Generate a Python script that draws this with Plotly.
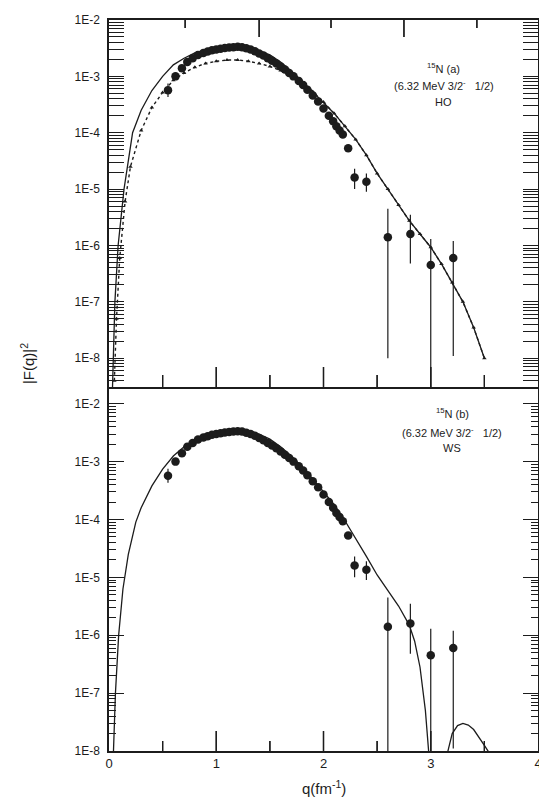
import numpy as np
import plotly.graph_objects as go

# ---------------- data ----------------
# experimental |F(q)|^2 (same data in both panels)
q_exp = [0.55, 0.62, 0.68, 0.73, 0.78, 0.83, 0.88, 0.92, 0.96, 1.00, 1.04, 1.08,
         1.12, 1.16, 1.20, 1.24, 1.28, 1.32, 1.36, 1.40, 1.44, 1.48, 1.52, 1.56,
         1.60, 1.64, 1.68, 1.72, 1.77, 1.81, 1.85, 1.90, 1.95, 2.00, 2.05, 2.09,
         2.12, 2.15, 2.18, 2.23, 2.29, 2.40, 2.60, 2.81, 3.00, 3.21]
f_exp = [5.7e-4, 1.0e-3, 1.4e-3, 1.8e-3, 2.1e-3, 2.4e-3, 2.6e-3, 2.75e-3, 2.9e-3, 3.0e-3, 3.1e-3, 3.2e-3,
         3.25e-3, 3.3e-3, 3.35e-3, 3.3e-3, 3.15e-3, 3.0e-3, 2.8e-3, 2.55e-3, 2.35e-3, 2.1e-3, 1.9e-3, 1.7e-3,
         1.5e-3, 1.32e-3, 1.15e-3, 1.0e-3, 8.3e-4, 7.0e-4, 5.8e-4, 4.6e-4, 3.6e-4, 2.7e-4, 2.0e-4, 1.6e-4,
         1.3e-4, 1.1e-4, 9.3e-5, 5.3e-5, 1.6e-5, 1.35e-5, 1.4e-6, 1.6e-6, 4.5e-7, 6.0e-7]
# upper / lower ends of the error bars
f_hi = [7.5e-4, 1.0e-3, 1.4e-3, 1.8e-3, 2.1e-3, 2.4e-3, 2.6e-3, 2.75e-3, 2.9e-3, 3.0e-3, 3.1e-3, 3.2e-3,
        3.25e-3, 3.3e-3, 3.35e-3, 3.3e-3, 3.15e-3, 3.0e-3, 2.8e-3, 2.55e-3, 2.35e-3, 2.1e-3, 1.9e-3, 1.7e-3,
        1.5e-3, 1.32e-3, 1.15e-3, 1.0e-3, 8.3e-4, 7.0e-4, 5.8e-4, 4.6e-4, 3.6e-4, 2.7e-4, 2.0e-4, 1.6e-4,
        1.3e-4, 1.1e-4, 9.3e-5, 5.3e-5, 2.3e-5, 1.9e-5, 4.5e-6, 3.5e-6, 1.3e-6, 1.2e-6]
f_lo = [4.3e-4, 1.0e-3, 1.4e-3, 1.8e-3, 2.1e-3, 2.4e-3, 2.6e-3, 2.75e-3, 2.9e-3, 3.0e-3, 3.1e-3, 3.2e-3,
        3.25e-3, 3.3e-3, 3.35e-3, 3.3e-3, 3.15e-3, 3.0e-3, 2.8e-3, 2.55e-3, 2.35e-3, 2.1e-3, 1.9e-3, 1.7e-3,
        1.5e-3, 1.32e-3, 1.15e-3, 1.0e-3, 8.3e-4, 7.0e-4, 5.8e-4, 4.6e-4, 3.6e-4, 2.7e-4, 2.0e-4, 1.6e-4,
        1.3e-4, 1.1e-4, 9.3e-5, 5.3e-5, 1.0e-5, 9.0e-6, 1.0e-8, 4.8e-7, 1.0e-9, 1.1e-8]

# (a) HO calculation, solid line
q_ho = [0.03, 0.04, 0.055, 0.085, 0.14, 0.22, 0.3, 0.4, 0.5, 0.6, 0.7, 0.8, 0.9, 1.0, 1.1, 1.2,
        1.3, 1.4, 1.5, 1.6, 1.7, 1.8, 1.9, 2.0, 2.1, 2.2, 2.3, 2.4, 2.5, 2.6, 2.7, 2.8, 2.9,
        3.0, 3.1, 3.2, 3.3, 3.4, 3.5]
f_ho = [2.0e-9, 1.0e-8, 1.0e-7, 1.0e-6, 1.0e-5, 1.0e-4, 2.5e-4, 5.6e-4, 1.0e-3, 1.6e-3, 2.1e-3, 2.6e-3,
        2.95e-3, 3.2e-3, 3.35e-3, 3.35e-3, 3.2e-3, 2.85e-3, 2.4e-3, 1.8e-3, 1.25e-3, 8.3e-4, 5.4e-4,
        3.5e-4, 2.2e-4, 1.3e-4, 7.6e-5, 4.0e-5, 1.9e-5, 1.0e-5, 5.2e-6, 2.75e-6, 1.6e-6,
        9.3e-7, 4.7e-7, 2.2e-7, 1.0e-7, 3.5e-8, 1.0e-8]

# (a) second calculation, dotted line
q_dot = [0.05, 0.07, 0.1, 0.15, 0.2, 0.3, 0.4, 0.5, 0.6, 0.7, 0.8, 0.9, 1.0, 1.1, 1.2, 1.3,
         1.4, 1.5, 1.6, 1.7, 1.8, 1.9, 2.0, 2.1, 2.2, 2.3, 2.4, 2.5, 2.6, 2.7, 2.8, 2.9,
         3.0, 3.1, 3.2, 3.3, 3.4, 3.5]
f_dot = [4.0e-9, 5.0e-8, 6.0e-7, 6.0e-6, 2.5e-5, 1.1e-4, 2.8e-4, 5.2e-4, 8.5e-4, 1.15e-3, 1.45e-3,
         1.7e-3, 1.85e-3, 1.95e-3, 1.95e-3, 1.85e-3, 1.7e-3, 1.5e-3, 1.27e-3, 1.02e-3, 7.8e-4, 5.4e-4,
         3.5e-4, 2.2e-4, 1.3e-4, 7.6e-5, 4.0e-5, 1.9e-5, 1.0e-5, 5.2e-6, 2.75e-6, 1.6e-6,
         9.3e-7, 4.7e-7, 2.2e-7, 1.0e-7, 3.5e-8, 1.0e-8]

# (b) WS calculation, solid line
q_ws = [0.04, 0.06, 0.09, 0.13, 0.18, 0.25, 0.3, 0.4, 0.5, 0.6, 0.7, 0.8, 0.9, 1.0, 1.1, 1.2,
        1.3, 1.4, 1.5, 1.6, 1.7, 1.8, 1.9, 2.0, 2.1, 2.2, 2.3, 2.4, 2.5, 2.6, 2.7, 2.8,
        2.85, 2.9, 2.95, 2.98, 3.0, 3.13, 3.16, 3.2, 3.25, 3.3, 3.35, 3.4, 3.45, 3.5, 3.55, 3.6]
f_ws = [8.0e-9, 1.0e-7, 1.0e-6, 6.3e-6, 2.5e-5, 9.0e-5, 1.6e-4, 3.8e-4, 7.4e-4, 1.25e-3, 1.8e-3,
        2.4e-3, 2.95e-3, 3.3e-3, 3.55e-3, 3.6e-3, 3.45e-3, 3.0e-3, 2.45e-3, 1.8e-3, 1.25e-3, 8.1e-4,
        5.0e-4, 3.0e-4, 1.8e-4, 9.5e-5, 4.8e-5, 2.3e-5, 1.1e-5, 6.0e-6, 3.2e-6, 1.5e-6,
        7.9e-7, 2.8e-7, 5.0e-8, 1.0e-8, 1.0e-9, 3.0e-9, 1.0e-8, 2.0e-8, 2.75e-8, 3.0e-8, 2.8e-8,
        2.35e-8, 1.75e-8, 1.25e-8, 9.0e-9, 6.0e-9]

y_tick_vals = [1e-8, 1e-7, 1e-6, 1e-5, 1e-4, 1e-3, 1e-2]
y_tick_text = ["1E-8", "1E-7", "1E-6", "1E-5", "1E-4", "1E-3", "1E-2"]
x_tick_vals = [0, 1, 2, 3, 4]
x_tick_text = ["0", "1", "2", "3", "4"]
x_major_marks = [1, 2, 3]
x_minor_marks = [0.5, 1.5, 2.5, 3.5]
# tick marks of the separate scale along the top edge of panel (a), at q positions
top_long_marks = [1.40, 2.75]
top_short_marks = [0.71, 2.07, 3.43]

# ---------------- figure ----------------
INK = "#1c1c1c"
FONT = "Liberation Sans, Arial, sans-serif"

# panel geometry (log ranges and pixel heights)
RANGE_B = [-8, -1.71]
RANGE_A = [-8.51, -2]
split = 0.498
PLOT_H = 795 - 10 - 52
PPD_B = split * PLOT_H / (RANGE_B[1] - RANGE_B[0])        # pixels per decade, panel (b)
PPD_A = (1 - split) * PLOT_H / (RANGE_A[1] - RANGE_A[0])  # pixels per decade, panel (a)

f_exp_a = np.array(f_exp)
err_plus = np.array(f_hi) - f_exp_a
err_minus = f_exp_a - np.array(f_lo)

fig = go.Figure()

for ya, xa in (("y2", "x2"), ("y", "x")):
    if ya == "y2":
        fig.add_trace(go.Scatter(x=q_dot, y=f_dot, xaxis=xa, yaxis=ya, mode="lines+markers",
                                 line=dict(color=INK, width=1.4, dash="dot"),
                                 marker=dict(symbol="triangle-up", size=4, color=INK),
                                 hoverinfo="skip", showlegend=False))
        fig.add_trace(go.Scatter(x=q_ho, y=f_ho, xaxis=xa, yaxis=ya, mode="lines",
                                 line=dict(color=INK, width=1.3), showlegend=False))
    else:
        fig.add_trace(go.Scatter(x=q_ws, y=f_ws, xaxis=xa, yaxis=ya, mode="lines",
                                 line=dict(color=INK, width=1.3), showlegend=False))
    fig.add_trace(go.Scatter(x=q_exp, y=f_exp, xaxis=xa, yaxis=ya, mode="markers",
                             marker=dict(symbol="circle", size=8.5, color=INK),
                             error_y=dict(type="data", symmetric=False, array=err_plus,
                                          arrayminus=err_minus, color=INK, thickness=1.2, width=0),
                             showlegend=False))


# inward tick marks of the q axes: invisible points on the axis edge carrying one-sided bars
def tick_marks(xs, base_log, length_px, ppd, sign, xa, ya):
    base = 10.0 ** (base_log + sign * 0.001)
    tip = 10.0 ** (base_log + sign * length_px / ppd)
    n = len(xs)
    if sign > 0:
        err = dict(type="data", symmetric=False, array=[tip - base] * n, arrayminus=[0.0] * n,
                   color=INK, thickness=1.3, width=0)
    else:
        err = dict(type="data", symmetric=False, array=[0.0] * n, arrayminus=[base - tip] * n,
                   color=INK, thickness=1.3, width=0)
    fig.add_trace(go.Scatter(x=list(xs), y=[base] * n, xaxis=xa, yaxis=ya, mode="markers",
                             marker=dict(size=1, color="rgba(0,0,0,0)"), error_y=err,
                             hoverinfo="skip", showlegend=False))
    # the same marks again as line shapes in data coordinates
    for v in xs:
        fig.add_shape(type="line", xref=xa, yref=ya, x0=v, x1=v, y0=base, y1=tip,
                      line=dict(color=INK, width=1.3), layer="above")


tick_marks(x_major_marks, RANGE_B[0], 20, PPD_B, 1, "x", "y")
tick_marks(x_minor_marks, RANGE_B[0], 10, PPD_B, 1, "x", "y")
tick_marks(x_major_marks, RANGE_A[0], 20, PPD_A, 1, "x2", "y2")
tick_marks(x_minor_marks, RANGE_A[0], 12, PPD_A, 1, "x2", "y2")
tick_marks(top_long_marks, RANGE_A[1], 17, PPD_A, -1, "x2", "y2")
tick_marks(top_short_marks, RANGE_A[1], 8, PPD_A, -1, "x2", "y2")

# empty trace so that the top edge of panel (a) gets its own axis
fig.add_trace(go.Scatter(x=[None], y=[None], xaxis="x3", yaxis="y2", showlegend=False,
                         hoverinfo="skip", mode="markers"))

minor_y = [m * 10.0 ** e for e in range(-9, -1) for m in range(2, 10)]

yax_common = dict(type="log", showline=True, linecolor=INK, linewidth=1.5,
                  ticks="inside", ticklen=15, tickwidth=1.3, tickcolor=INK,
                  tickmode="array", tickvals=y_tick_vals, ticktext=y_tick_text,
                  minor=dict(ticks="inside", ticklen=7, tickwidth=1, tickcolor=INK,
                             tickmode="array", tickvals=minor_y, showgrid=False),
                  mirror="allticks", showgrid=False, zeroline=False,
                  tickfont=dict(family=FONT, size=12, color=INK), ticklabelstandoff=5)

xax_common = dict(range=[0, 4], showline=True, linecolor=INK, linewidth=1.5, ticks="",
                  tickmode="array", tickvals=x_tick_vals, ticktext=x_tick_text,
                  showgrid=False, zeroline=False,
                  tickfont=dict(family=FONT, size=13, color=INK))

# page body adds an 8px offset, so the figure is 8px smaller than the window
fig.update_layout(
    width=539, height=795,
    margin=dict(l=101, r=5, t=10, b=52),
    paper_bgcolor="white", plot_bgcolor="white",
    xaxis=dict(**xax_common, anchor="y", domain=[0, 1]),
    xaxis2=dict(**xax_common, anchor="y2", domain=[0, 1], showticklabels=False),
    xaxis3=dict(range=[0, 4], overlaying="x2", anchor="y2", side="top",
                showline=True, linecolor=INK, linewidth=1.5, ticks="",
                showticklabels=False, showgrid=False, zeroline=False),
    yaxis=dict(**yax_common, anchor="x", domain=[0, split], range=RANGE_B),
    yaxis2=dict(**yax_common, anchor="x2", domain=[split, 1], range=RANGE_A),
    showlegend=False,
)

ann_font = dict(family=FONT, size=11, color=INK)
texts = [
    ("<sup>15</sup>N (a)", 0.78, 0.935),
    ("(6.32 MeV 3/2<sup>-</sup>   1/2)", 0.78, 0.911),
    ("HO", 0.78, 0.888),
    ("<sup>15</sup>N (b)", 0.80, 0.462),
    ("(6.32 MeV 3/2<sup>-</sup>   1/2)", 0.80, 0.436),
    ("WS", 0.80, 0.414),
]
for t, x, y in texts:
    fig.add_annotation(text=t, x=x, y=y, xref="paper", yref="paper", showarrow=False,
                       font=ann_font, xanchor="center", yanchor="middle")

fig.add_annotation(text="|F(q)|<sup>2</sup>", x=-0.19, y=0.53, xref="paper", yref="paper",
                   showarrow=False, textangle=-90, font=dict(family=FONT, size=15, color=INK),
                   xanchor="center", yanchor="middle")
fig.add_annotation(text="q(fm<sup>-1</sup>)", x=0.5, y=-0.05, xref="paper", yref="paper",
                   showarrow=False, font=dict(family=FONT, size=15, color=INK),
                   xanchor="center", yanchor="middle")

fig.write_html("out.html")
